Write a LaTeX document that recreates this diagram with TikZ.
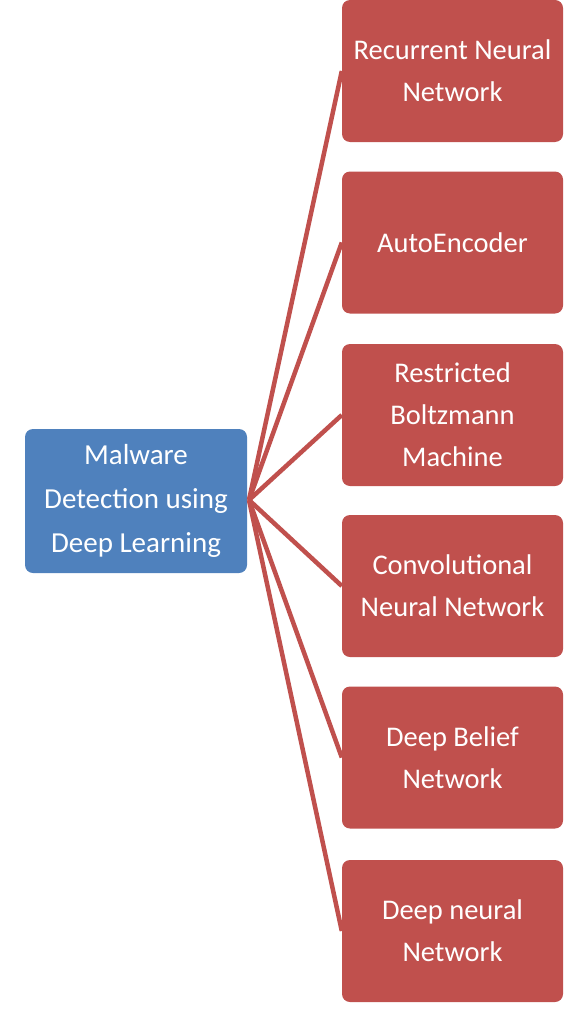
\documentclass[tikz,border=0pt]{standalone}
\usepackage{fontspec}
\setmainfont{Carlito}
\definecolor{boxred}{HTML}{C0504D}
\definecolor{boxblue}{HTML}{4F81BD}
\begin{document}
\begin{tikzpicture}[x=1pt,y=-1pt,
  redbox/.style={draw=none,fill=boxred,rounded corners=8pt,minimum width=221pt,minimum height=142pt,
    text=white,align=center,inner sep=0pt,font=\fontsize{28.5}{42}\selectfont},
  bluebox/.style={draw=none,fill=boxblue,rounded corners=8pt,minimum width=222pt,minimum height=144pt,
    text=white,align=center,inner sep=0pt,font=\fontsize{29}{44}\selectfont},
  link/.style={draw=boxred,line width=4.5pt}]
\useasboundingbox (0,0) rectangle (587,1014);
\node[bluebox] (root) at (136,501) {Malware\\Detection using\\Deep Learning};
\coordinate (hub) at (249,500);
\node[redbox] (rnn) at (452.5,71) {Recurrent Neural\\Network};
\node[redbox] (ae) at (452.5,242.5) {AutoEncoder};
\node[redbox] (rbm) at (452.5,415) {Restricted\\Boltzmann\\Machine};
\node[redbox] (cnn) at (452.5,586) {Convolutional\\Neural Network};
\node[redbox] (dbn) at (452.5,757.5) {Deep Belief\\Network};
\node[redbox] (dnn) at (452.5,931) {Deep neural\\Network};
\foreach \t in {rnn,ae,rbm,cnn,dbn,dnn}{
  \draw[link] (hub) -- (\t.west);
}
\end{tikzpicture}
\end{document}
